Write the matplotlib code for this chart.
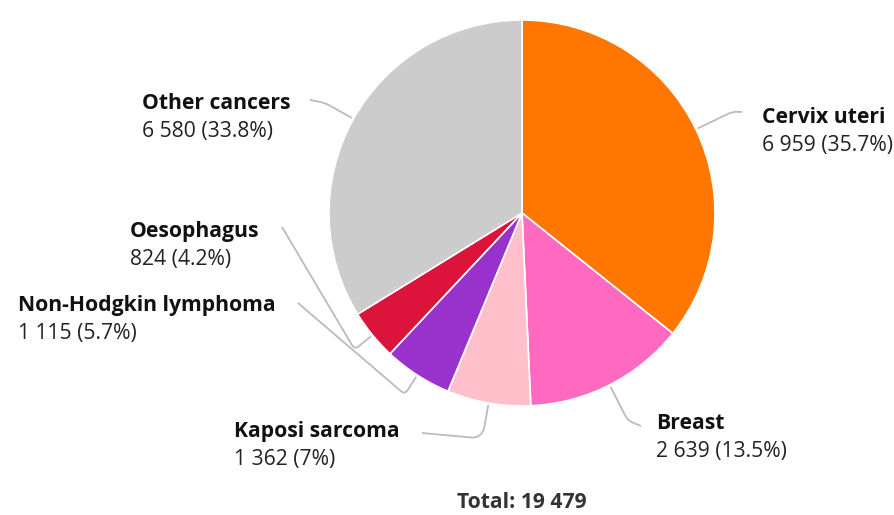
import numpy as np
import matplotlib.pyplot as plt
from matplotlib.path import Path
from matplotlib.patches import PathPatch

plt.rcParams["font.family"] = ["Open Sans", "DejaVu Sans"]

sites = ["Cervix uteri", "Breast", "Kaposi sarcoma", "Non-Hodgkin lymphoma",
         "Oesophagus", "Other cancers"]
cases = [6959, 2639, 1362, 1115, 824, 6580]
value_labels = ["6 959 (35.7%)", "2 639 (13.5%)", "1 362 (7%)", "1 115 (5.7%)",
                "824 (4.2%)", "6 580 (33.8%)"]
total_label = "Total: 19 479"
colors = ["#ff7700", "#ff69c0", "#ffc0cb", "#9932cc", "#dc143c", "#cccccc"]

# layout in pixel coordinates (y down)
cx, cy, r = 522, 213, 193
label_xy = [(762, 117), (656, 424), (234, 432), (18, 306), (130, 232), (142, 103)]
line_end = [(742, 112), (641, 426), (422, 433), (298, 303), (282, 227), (310, 100)]
corner_out = [41, 40, 36, 23, 23, 33]
corner_round = [5, 6, 12, 5, 5, 6]


def unit(v):
    v = np.asarray(v, dtype=float)
    return v / np.hypot(*v)


fig = plt.figure(figsize=(8.95, 5.15), dpi=100)
ax = fig.add_axes([0, 0, 1, 1])

ax.pie(cases, colors=colors, startangle=-90, counterclock=True,
       center=(cx, cy), radius=r, frame=True,
       wedgeprops=dict(edgecolor="white", linewidth=1.2))
ax.set_xlim(0, 895)
ax.set_ylim(515, 0)
ax.set_aspect("equal")
ax.axis("off")

fracs = np.array(cases) / sum(cases)
mids = (np.cumsum(fracs) - fracs / 2) * 2 * np.pi
for i, phi in enumerate(mids):
    d = np.array([np.sin(phi), -np.cos(phi)])
    p0 = np.array([cx, cy]) + (r + 2) * d
    p1 = np.array([cx, cy]) + (r + corner_out[i]) * d
    p2 = np.array(line_end[i], dtype=float)
    a = p1 - corner_round[i] * unit(p1 - p0)
    b = p1 + corner_round[i] * unit(p2 - p1)
    path = Path([p0, a, p1, b, p2],
                [Path.MOVETO, Path.LINETO, Path.CURVE3, Path.CURVE3, Path.LINETO])
    ax.add_patch(PathPatch(path, fill=False, edgecolor="#bbbbbb", linewidth=1.3))

    x, y = label_xy[i]
    ax.text(x, y, sites[i], fontsize=15.2, fontweight="bold", color="#111111",
            ha="left", va="center")
    ax.text(x, y + 28, value_labels[i], fontsize=15.2, color="#222222",
            ha="left", va="center")

ax.text(cx, 503, total_label, fontsize=15.2, fontweight="bold", color="#333333",
        ha="center", va="center")

fig.savefig("out.png", dpi=100)
